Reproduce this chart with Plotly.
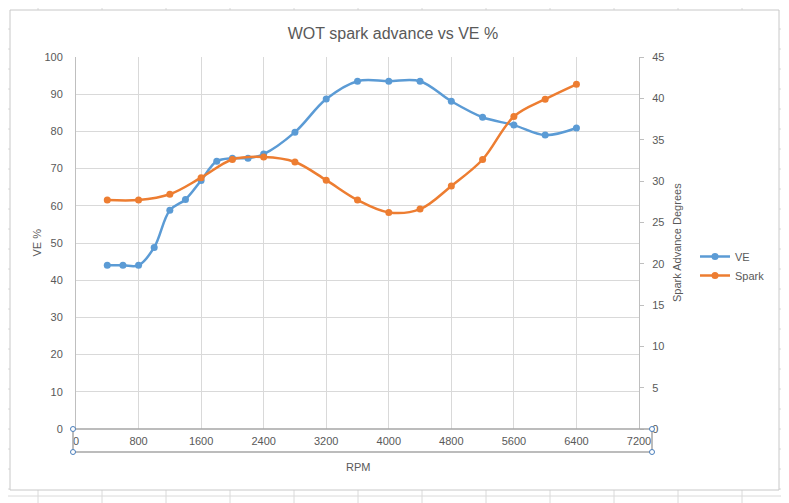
import plotly.graph_objects as go

# ---- data ----
rpm_ve = [400, 600, 800, 1000, 1200, 1400, 1600, 1800, 2000, 2200, 2400,
          2800, 3200, 3600, 4000, 4400, 4800, 5200, 5600, 6000, 6400]
ve = [44.0, 44.0, 44.0, 48.8, 58.8, 61.7, 66.8, 72.0, 72.8, 72.8, 73.9,
      79.8, 88.7, 93.5, 93.5, 93.5, 88.1, 83.8, 81.7, 79.0, 80.9]

rpm_spark = [400, 800, 1200, 1600, 2000, 2400, 2800, 3200, 3600, 4000,
             4400, 4800, 5200, 5600, 6000, 6400]
spark = [27.7, 27.7, 28.4, 30.4, 32.6, 32.9, 32.3, 30.1, 27.7, 26.2,
         26.6, 29.4, 32.6, 37.8, 39.9, 41.7]

x_ticks = [0, 800, 1600, 2400, 3200, 4000, 4800, 5600, 6400, 7200]
left_ticks = [0, 10, 20, 30, 40, 50, 60, 70, 80, 90, 100]
right_ticks = [0, 5, 10, 15, 20, 25, 30, 35, 40, 45]

# ---- layout geometry (page pixels; page body has an 8px margin) ----
OFF = 8
WIN_W, WIN_H = 789, 503
W, H = WIN_W - OFF, WIN_H - OFF
L, R, T, B = 76, 639, 57, 429
PW, PH = R - L, B - T


def px(x):
    return (x - L) / PW


def py(y):
    return (B - y) / PH


FONT = "Liberation Sans"
TXT = "#595959"
BLUE = "#5B9BD5"
ORANGE = "#ED7D31"
CELL = "#dadada"

fig = go.Figure()
fig.add_trace(go.Scatter(
    x=rpm_ve, y=ve, name="VE", mode="lines+markers",
    line=dict(color=BLUE, width=2.5, shape="spline", smoothing=1),
    marker=dict(color=BLUE, size=7), yaxis="y"))
fig.add_trace(go.Scatter(
    x=rpm_spark, y=spark, name="Spark", mode="lines+markers",
    line=dict(color=ORANGE, width=2.5, shape="spline", smoothing=1),
    marker=dict(color=ORANGE, size=7), yaxis="y2"))

shapes = []
# spreadsheet cell lines around the chart object
for cy in range(29, 503, 20):
    for x0, x1 in [(OFF, 10), (779, 789)]:
        shapes.append(dict(type="line", xref="paper", yref="paper",
                           x0=px(x0), x1=px(x1), y0=py(cy), y1=py(cy),
                           line=dict(color=CELL, width=1), layer="below"))
for cx in range(38, 789, 64):
    for y0, y1 in [(OFF, 10), (490, 503)]:
        shapes.append(dict(type="line", xref="paper", yref="paper",
                           x0=px(cx), x1=px(cx), y0=py(y0), y1=py(y1),
                           line=dict(color=CELL, width=1), layer="below"))
shapes.append(dict(type="line", xref="paper", yref="paper",
                   x0=px(OFF), x1=px(789), y0=py(496), y1=py(496),
                   line=dict(color=CELL, width=1), layer="below"))
# chart border
shapes.append(dict(type="rect", xref="paper", yref="paper",
                   x0=px(10), x1=px(779), y0=py(490), y1=py(10),
                   line=dict(color="#c8c8c8", width=1), layer="below"))
# selected x-axis box
shapes.append(dict(type="rect", xref="paper", yref="paper",
                   x0=px(73), x1=px(652), y0=py(452), y1=py(429),
                   line=dict(color="#a6a6a6", width=1.5)))
for hx, hy in [(73, 429), (652, 429), (73, 452), (652, 452)]:
    shapes.append(dict(type="circle", xref="paper", yref="paper",
                       x0=px(hx - 2.5), x1=px(hx + 2.5),
                       y0=py(hy + 2.5), y1=py(hy - 2.5),
                       line=dict(color="#4a7ebb", width=1),
                       fillcolor="white"))

annotations = [
    dict(text="VE %", xref="paper", yref="paper", x=px(36.5), y=0.5,
         xanchor="center", yanchor="middle",
         textangle=-90, showarrow=False,
         font=dict(family=FONT, size=11, color=TXT)),
    dict(text="Spark Advance Degrees", xref="paper", yref="paper",
         x=px(677), y=0.5, xanchor="center", yanchor="middle",
         textangle=-90, showarrow=False,
         font=dict(family=FONT, size=11, color=TXT)),
    dict(text="RPM", xref="paper", yref="paper", x=px(357.5), y=py(467),
         xanchor="center", yanchor="middle",
         showarrow=False, font=dict(family=FONT, size=11, color=TXT)),
]

fig.update_layout(
    width=W, height=H,
    margin=dict(l=L - OFF, r=W - (R - OFF), t=T - OFF, b=H - (B - OFF)),
    paper_bgcolor="white", plot_bgcolor="white",
    title=dict(text="WOT spark advance vs VE %", x=(393 - OFF) / W,
               xref="container", y=1 - (33 - OFF) / H, yref="container",
               xanchor="center", yanchor="middle",
               font=dict(family=FONT, size=16, color=TXT)),
    xaxis=dict(range=[0, 7200], tickvals=x_ticks,
               ticktext=[str(v) for v in x_ticks],
               showgrid=True, gridcolor="#d9d9d9", gridwidth=1,
               showline=False, zeroline=False, ticks="",
               ticklabelstandoff=4,
               tickfont=dict(family=FONT, size=11, color=TXT)),
    yaxis=dict(range=[0, 100], tickvals=left_ticks,
               showgrid=True, gridcolor="#d9d9d9", gridwidth=1,
               showline=True, linecolor="#bfbfbf", linewidth=1,
               zeroline=False, ticks="", ticklabelstandoff=10,
               tickfont=dict(family=FONT, size=11, color=TXT)),
    yaxis2=dict(range=[0, 45], tickvals=right_ticks, overlaying="y",
                side="right", showgrid=False, zeroline=False,
                showline=True, linecolor="#bfbfbf", linewidth=1,
                ticks="outside", ticklen=4, tickcolor="#bfbfbf",
                ticklabelstandoff=6,
                tickfont=dict(family=FONT, size=11, color=TXT)),
    legend=dict(x=px(695), y=py(266), xanchor="left", yanchor="middle",
                font=dict(family=FONT, size=11, color=TXT),
                bgcolor="rgba(0,0,0,0)", tracegroupgap=4),
    shapes=shapes,
    annotations=annotations,
)

fig.write_html("out.html")
